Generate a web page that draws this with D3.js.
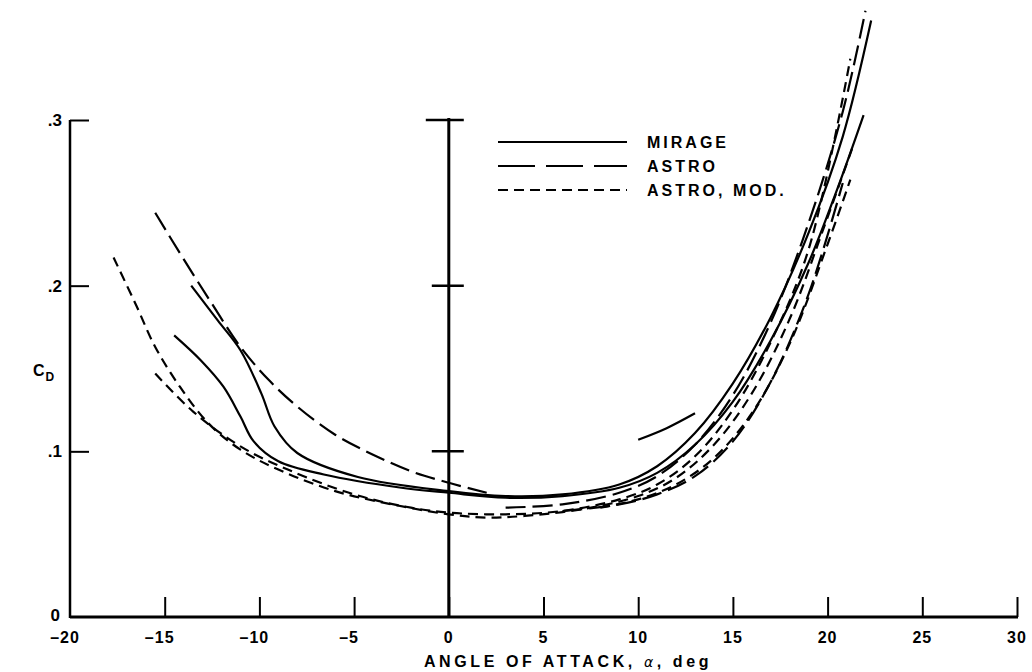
<!DOCTYPE html>
<html><head><meta charset="utf-8">
<script src="https://cdn.jsdelivr.net/npm/d3@7"></script>
<style>body{margin:0;background:#fff}svg{display:block}text{font-family:"Liberation Sans",Arial,Helvetica,sans-serif;font-weight:bold;fill:#000}</style>
</head><body><svg id="c" width="1032" height="672"></svg>
<script>
// ---- data (angle of attack, deg ; drag coefficient CD) ----
const xTicks = [-20,-15,-10,-5,0,5,10,15,20,25,30];
const xTickLabels = ["\u201320","\u201315","\u201310","\u20135","0","5","10","15","20","25","30"];
const yTicks = [0,0.1,0.2,0.3];
const yTickLabels = ["0",".1",".2",".3"];
const seriesNames = ["MIRAGE","ASTRO","ASTRO, MOD."];

const mirageA = [[-14.5,0.170],[-13.1,0.155],[-11.9,0.139],[-11.0,0.121],[-10.3,0.106],[-9.0,0.094],[-6.6,0.086],[-2.5,0.078],[0,0.075],[3,0.072],[6,0.073],[9,0.078],[11,0.087],[13,0.104],[15,0.130],[17,0.167],[19,0.214],[20.5,0.258],[21.9,0.303]];
const mirageB = [[-13.6,0.200],[-12.2,0.179],[-11.0,0.161],[-9.9,0.135],[-9.2,0.115],[-8.0,0.099],[-4.8,0.0845],[0,0.076],[3,0.073],[6,0.074],[9,0.080],[11,0.091],[13,0.111],[15,0.141],[17,0.181],[19,0.232],[20.8,0.290],[22.3,0.360]];
const mirageC = [[10.0,0.107],[11.5,0.114],[13.0,0.123]];
const astroA = [[-15.5,0.244],[-14,0.216],[-12.5,0.189],[-11,0.163],[-9.5,0.143],[-8,0.127],[-6,0.110],[-4,0.098],[-2,0.088],[0,0.081],[2,0.075]];
const astroB = [[3,0.066],[6,0.068],[9,0.075],[11,0.085],[13,0.104],[15,0.134],[17,0.178],[19,0.238],[20.8,0.305],[22.0,0.366]];
const astroC = [[6,0.064],[9,0.068],[11,0.074],[13,0.085],[15,0.106],[17,0.142],[19,0.195],[20.8,0.262]];
const modA = [[-17.7,0.217],[-16.5,0.188],[-15.5,0.163],[-14.2,0.139],[-12.7,0.117],[-11,0.101],[-9,0.089],[-6,0.076],[-3,0.068],[0,0.062],[2,0.060],[4,0.061],[7,0.065],[10,0.073],[12,0.084],[14,0.104],[16,0.135],[18,0.180],[19.8,0.235],[21.3,0.283]];
const modB = [[-15.5,0.147],[-13.5,0.124],[-11,0.103],[-8.5,0.089],[-5,0.074],[-2,0.066],[0,0.063],[3,0.062],[6,0.064],[9,0.071],[11,0.080],[13,0.097],[15,0.125],[17,0.166],[19,0.222],[21.2,0.337]];
const modC = [[8,0.066],[10,0.071],[12,0.080],[14,0.096],[16,0.123],[18,0.165],[20,0.225],[21.2,0.264]];

// ---- layout ----
const svg = d3.select("#c");
const x = d3.scaleLinear().domain([-20,30]).range([70,1017]);
const y = d3.scaleLinear().domain([0,0.3]).range([617,120]);
const ink = "#000";

// bottom axis
const gx = svg.append("g").attr("transform",`translate(0,${y(0)})`)
  .call(d3.axisTop(x).tickValues(xTicks.slice(1)).tickSize(20).tickFormat(""));
gx.select(".domain").remove();
gx.selectAll("line").attr("stroke",ink).attr("stroke-width",2);
svg.append("line").attr("x1",x(-20)).attr("x2",x(30)+1).attr("y1",y(0)).attr("y2",y(0)).attr("stroke",ink).attr("stroke-width",3);
svg.selectAll(".xl").data(xTicks).enter().append("text")
  .attr("x",d=>x(d)).attr("y",y(0)+26).attr("text-anchor","middle").attr("font-size",16).attr("letter-spacing",1)
  .text((d,i)=>xTickLabels[i]).attr("dx",d=>d<0?-5:0);

// left axis
const gy = svg.append("g").attr("transform",`translate(${x(-20)},0)`)
  .call(d3.axisRight(y).tickValues(yTicks.slice(1)).tickSize(19).tickFormat(""));
gy.select(".domain").remove();
gy.selectAll("line").attr("stroke",ink).attr("stroke-width",2);
svg.append("line").attr("x1",x(-20)).attr("x2",x(-20)).attr("y1",y(0)+1).attr("y2",y(0.3)).attr("stroke",ink).attr("stroke-width",2.5);
svg.selectAll(".yl").data(yTicks).enter().append("text")
  .attr("x",d=>d===0?60:62).attr("y",d=>y(d)+(d===0?4:6)).attr("text-anchor","end").attr("font-size",17)
  .text((d,i)=>yTickLabels[i]);

// center axis at alpha = 0
svg.append("line").attr("x1",x(0)).attr("x2",x(0)).attr("y1",y(0)).attr("y2",y(0.3)-2).attr("stroke",ink).attr("stroke-width",3);
const gc = svg.append("g").attr("transform",`translate(${x(0)},0)`);
gc.selectAll("line").data(yTicks.slice(1)).enter().append("line")
  .attr("x1",d=>d===0.3?-23:-17).attr("x2",15).attr("y1",d=>y(d)).attr("y2",d=>y(d))
  .attr("stroke",ink).attr("stroke-width",2.5);

// axis titles
const xt = svg.append("text").attr("x",568).attr("y",667).attr("text-anchor","middle").attr("font-size",16).attr("letter-spacing",3.6);
xt.append("tspan").text("ANGLE OF ATTACK, ");
xt.append("tspan").attr("font-style","italic").attr("font-weight","normal").attr("font-family","DejaVu Sans").attr("font-size",14).text("\u03b1");
xt.append("tspan").text(", deg");
const cd = svg.append("text").attr("x",33).attr("y",376).attr("font-size",16).attr("letter-spacing",1).text("C");
cd.append("tspan").attr("font-size",12).attr("dy",5).text("D");

// curves
const line = d3.line().x(d=>x(d[0])).y(d=>y(d[1])).curve(d3.curveCatmullRom.alpha(0.5));
const styles = {solid:null, long:"20,7", short:"10,6"};
const curves = [
  [mirageA,"solid"],[mirageB,"solid"],[mirageC,"solid"],
  [astroA,"long"],[astroB,"long"],[astroC,"long"],
  [modA,"short"],[modB,"short"],[modC,"short"]
];
svg.append("g").selectAll("path").data(curves).enter().append("path")
  .attr("d",d=>line(d[0])).attr("fill","none").attr("stroke",ink).attr("stroke-width",2.2)
  .attr("stroke-dasharray",d=>styles[d[1]]);

// legend
const leg = svg.append("g");
const legY = [142,166,190];
const legStyle = ["solid","long","short"];
seriesNames.forEach((n,i)=>{
  leg.append("line").attr("x1",498).attr("x2",627).attr("y1",legY[i]).attr("y2",legY[i])
    .attr("stroke",ink).attr("stroke-width",2).attr("stroke-dasharray",legStyle[i]==="long"?"37,11":(legStyle[i]==="short"?"10,6":null));
  leg.append("text").attr("x",647).attr("y",legY[i]+6).attr("font-size",16).attr("letter-spacing",3).text(n);
});
</script></body></html>
